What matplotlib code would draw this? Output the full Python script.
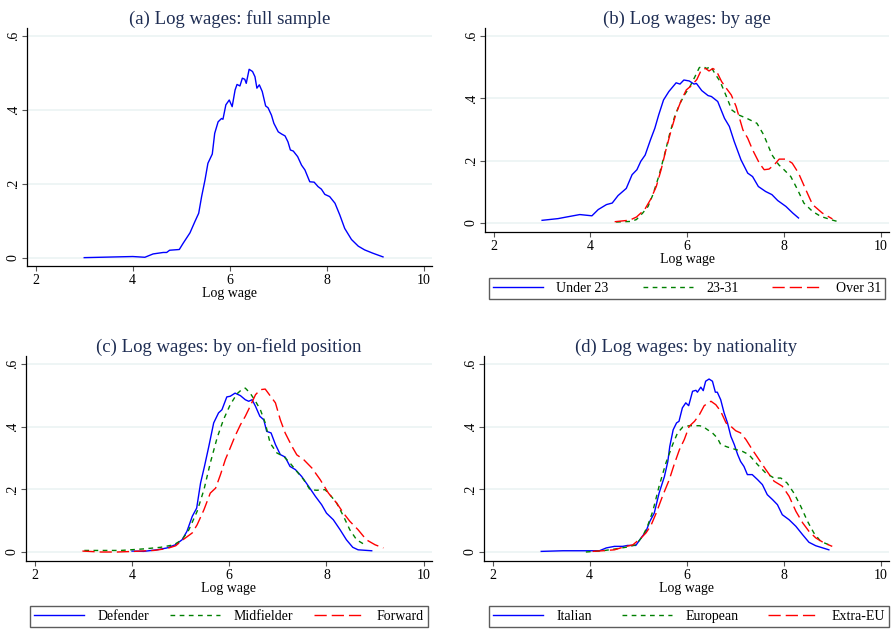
import matplotlib
matplotlib.use("Agg")
import matplotlib.pyplot as plt
import numpy as np

plt.rcParams['font.family'] = ['Liberation Serif', 'DejaVu Serif']

# ---------------- data ----------------
a_x = [3.0, 4.0, 4.25, 4.42, 4.63, 4.7, 4.76, 4.96, 5.04, 5.18, 5.28, 5.36, 5.42, 5.49, 5.55, 5.64, 5.69,
       5.76, 5.83, 5.86, 5.92, 5.99, 6.05, 6.11, 6.15, 6.21, 6.26, 6.31, 6.34, 6.4, 6.47, 6.52, 6.56, 6.61,
       6.67, 6.74, 6.79, 6.86, 6.91, 7.0, 7.07, 7.14, 7.2, 7.25, 7.31, 7.4, 7.48, 7.55, 7.65, 7.74, 7.82,
       7.89, 7.96, 8.06, 8.17, 8.27, 8.37, 8.51, 8.65, 8.78, 8.95, 9.16]
a_y = [0.001, 0.004, 0.002, 0.011, 0.015, 0.015, 0.021, 0.023, 0.04, 0.068, 0.098, 0.121, 0.166, 0.211,
       0.256, 0.281, 0.337, 0.368, 0.377, 0.375, 0.414, 0.427, 0.409, 0.454, 0.469, 0.465, 0.486, 0.483,
       0.472, 0.51, 0.504, 0.49, 0.459, 0.468, 0.45, 0.411, 0.406, 0.386, 0.364, 0.341, 0.335, 0.33, 0.314,
       0.292, 0.289, 0.274, 0.251, 0.238, 0.206, 0.205, 0.193, 0.186, 0.172, 0.166, 0.148, 0.116, 0.08,
       0.05, 0.032, 0.022, 0.013, 0.003]

b_u23_x = [3.0, 3.33, 3.5, 3.78, 4.03, 4.16, 4.33, 4.45, 4.57, 4.74, 4.86, 4.96, 5.04, 5.13, 5.24, 5.33,
           5.41, 5.51, 5.62, 5.77, 5.85, 5.93, 6.04, 6.14, 6.19, 6.3, 6.43, 6.5, 6.63, 6.77, 6.87, 6.97,
           7.11, 7.25, 7.35, 7.47, 7.62, 7.75, 7.87, 8.04, 8.18, 8.3]
b_u23_y = [0.0085, 0.014, 0.019, 0.027, 0.023, 0.043, 0.059, 0.064, 0.088, 0.111, 0.155, 0.171, 0.198,
           0.218, 0.267, 0.304, 0.347, 0.395, 0.422, 0.45, 0.446, 0.459, 0.456, 0.446, 0.448, 0.425, 0.409,
           0.406, 0.39, 0.336, 0.31, 0.262, 0.203, 0.16, 0.149, 0.117, 0.101, 0.091, 0.072, 0.053, 0.032,
           0.016]
b_mid_x = [4.53, 4.84, 4.95, 5.08, 5.19, 5.29, 5.41, 5.53, 5.64, 5.74, 5.85, 5.95, 6.05, 6.16, 6.25, 6.33,
           6.4, 6.49, 6.57, 6.68, 6.81, 6.92, 7.06, 7.23, 7.44, 7.58, 7.75, 7.89, 8.0, 8.14, 8.28, 8.41,
           8.59, 8.76, 8.96, 9.17]
b_mid_y = [0.003, 0.005, 0.011, 0.032, 0.053, 0.091, 0.149, 0.219, 0.288, 0.342, 0.384, 0.413, 0.436,
           0.47, 0.499, 0.502, 0.496, 0.502, 0.48, 0.454, 0.406, 0.363, 0.347, 0.336, 0.32, 0.283, 0.219,
           0.187, 0.171, 0.149, 0.107, 0.064, 0.037, 0.021, 0.011, 0.002]
b_o31_x = [4.5, 4.81, 4.95, 5.12, 5.24, 5.36, 5.46, 5.56, 5.67, 5.77, 5.88, 5.98, 6.1, 6.2, 6.29, 6.38,
           6.45, 6.53, 6.6, 6.71, 6.81, 6.91, 7.01, 7.15, 7.25, 7.35, 7.49, 7.59, 7.69, 7.8, 7.9, 8.04,
           8.17, 8.3, 8.45, 8.59, 8.79, 9.0]
b_o31_y = [0.004, 0.009, 0.019, 0.043, 0.075, 0.117, 0.171, 0.235, 0.299, 0.352, 0.395, 0.427, 0.443,
           0.461, 0.491, 0.496, 0.488, 0.496, 0.489, 0.454, 0.432, 0.411, 0.374, 0.299, 0.272, 0.235,
           0.192, 0.171, 0.173, 0.187, 0.205, 0.205, 0.192, 0.16, 0.107, 0.059, 0.032, 0.013]

c_def_x = [4.0, 4.24, 4.51, 4.72, 4.89, 5.03, 5.13, 5.24, 5.33, 5.41, 5.49, 5.58, 5.68, 5.78, 5.85, 5.95,
           6.02, 6.12, 6.23, 6.33, 6.4, 6.47, 6.54, 6.63, 6.71, 6.77, 6.86, 6.95, 7.05, 7.15, 7.25, 7.36,
           7.49, 7.63, 7.77, 7.9, 8.0, 8.14, 8.28, 8.41, 8.54, 8.65, 8.93]
c_def_y = [0.003, 0.002, 0.007, 0.013, 0.023, 0.039, 0.066, 0.114, 0.14, 0.22, 0.273, 0.337, 0.412,
           0.444, 0.454, 0.495, 0.497, 0.507, 0.499, 0.486, 0.481, 0.486, 0.465, 0.433, 0.422, 0.385,
           0.38, 0.343, 0.311, 0.303, 0.273, 0.263, 0.241, 0.21, 0.178, 0.151, 0.124, 0.103, 0.071, 0.039,
           0.015, 0.007, 0.004]
c_mid_x = [3.02, 3.36, 3.77, 4.25, 4.59, 4.86, 5.03, 5.17, 5.34, 5.48, 5.61, 5.75, 5.88, 6.02, 6.16, 6.24,
           6.33, 6.43, 6.54, 6.64, 6.74, 6.84, 6.98, 7.12, 7.25, 7.39, 7.53, 7.66, 7.8, 7.97, 8.07, 8.21,
           8.35, 8.48, 8.62, 8.79]
c_mid_y = [0.005, 0.005, 0.005, 0.01, 0.015, 0.023, 0.039, 0.071, 0.13, 0.199, 0.284, 0.364, 0.422, 0.47,
           0.505, 0.516, 0.523, 0.507, 0.481, 0.454, 0.412, 0.348, 0.316, 0.305, 0.284, 0.257, 0.231,
           0.199, 0.197, 0.199, 0.183, 0.156, 0.114, 0.071, 0.039, 0.023]
c_fwd_x = [2.98, 3.36, 3.7, 4.04, 4.45, 4.72, 4.9, 5.03, 5.24, 5.34, 5.48, 5.61, 5.72, 5.82, 5.92, 6.02,
           6.12, 6.23, 6.33, 6.43, 6.54, 6.64, 6.74, 6.84, 6.95, 7.05, 7.15, 7.29, 7.39, 7.53, 7.7, 7.87,
           8.04, 8.21, 8.35, 8.48, 8.65, 8.82, 9.0, 9.17]
c_fwd_y = [0.003, 0.0, 0.0, 0.002, 0.005, 0.011, 0.02, 0.037, 0.061, 0.087, 0.135, 0.188, 0.204, 0.247,
           0.295, 0.332, 0.37, 0.406, 0.433, 0.465, 0.502, 0.518, 0.52, 0.499, 0.476, 0.422, 0.38, 0.337,
           0.31, 0.295, 0.268, 0.231, 0.188, 0.156, 0.124, 0.098, 0.071, 0.039, 0.023, 0.013]

d_ita_x = [3.0, 3.45, 3.93, 4.2, 4.34, 4.51, 4.68, 4.78, 4.95, 5.06, 5.16, 5.24, 5.33, 5.43, 5.54, 5.61,
           5.65, 5.72, 5.79, 5.84, 5.91, 5.98, 6.04, 6.12, 6.19, 6.22, 6.29, 6.34, 6.39, 6.46, 6.53, 6.59,
           6.63, 6.7, 6.77, 6.84, 6.91, 6.98, 7.05, 7.11, 7.18, 7.25, 7.35, 7.46, 7.56, 7.66, 7.77, 7.87,
           7.97, 8.11, 8.25, 8.39, 8.52, 8.66, 8.93]
d_ita_y = [0.002, 0.004, 0.004, 0.004, 0.013, 0.018, 0.018, 0.021, 0.021, 0.045, 0.066, 0.098, 0.124,
           0.188, 0.241, 0.289, 0.337, 0.39, 0.412, 0.417, 0.46, 0.476, 0.467, 0.513, 0.516, 0.51, 0.526,
           0.515, 0.545, 0.552, 0.545, 0.51, 0.51, 0.486, 0.444, 0.412, 0.369, 0.343, 0.311, 0.289, 0.273,
           0.247, 0.247, 0.231, 0.215, 0.183, 0.167, 0.151, 0.119, 0.103, 0.082, 0.055, 0.031, 0.02, 0.007]
d_eur_x = [3.92, 4.27, 4.54, 4.78, 4.95, 5.09, 5.19, 5.3, 5.43, 5.57, 5.71, 5.81, 5.92, 6.05, 6.16, 6.26,
           6.33, 6.43, 6.53, 6.63, 6.7, 6.84, 7.01, 7.15, 7.28, 7.46, 7.63, 7.8, 7.94, 8.07, 8.21, 8.35,
           8.49, 8.62, 8.76, 8.93]
d_eur_y = [0.0, 0.004, 0.01, 0.016, 0.023, 0.05, 0.082, 0.13, 0.21, 0.284, 0.343, 0.38, 0.399, 0.403,
           0.403, 0.403, 0.401, 0.39, 0.38, 0.364, 0.343, 0.335, 0.327, 0.321, 0.311, 0.279, 0.252, 0.236,
           0.236, 0.22, 0.188, 0.146, 0.098, 0.061, 0.034, 0.023]
d_ext_x = [4.06, 4.27, 4.51, 4.68, 4.89, 5.06, 5.16, 5.26, 5.37, 5.5, 5.64, 5.74, 5.85, 5.95, 6.05, 6.16,
           6.26, 6.36, 6.5, 6.6, 6.7, 6.81, 6.91, 7.01, 7.11, 7.22, 7.35, 7.49, 7.63, 7.8, 7.97, 8.11,
           8.25, 8.39, 8.52, 8.66, 8.83, 9.0]
d_ext_y = [0.002, 0.004, 0.007, 0.015, 0.023, 0.045, 0.061, 0.084, 0.124, 0.178, 0.231, 0.279, 0.327,
           0.359, 0.401, 0.417, 0.438, 0.467, 0.481, 0.47, 0.449, 0.412, 0.401, 0.387, 0.38, 0.359, 0.327,
           0.295, 0.263, 0.226, 0.21, 0.178, 0.13, 0.093, 0.066, 0.045, 0.029, 0.018]

titles = ["(a) Log wages: full sample", "(b) Log wages: by age",
          "(c) Log wages: by on-field position", "(d) Log wages: by nationality"]
legend_b = ["Under 23", "23-31", "Over 31"]
legend_c = ["Defender", "Midfielder", "Forward"]
legend_d = ["Italian", "European", "Extra-EU"]
x_ticks = [2, 4, 6, 8, 10]
y_ticks = [0, 0.2, 0.4, 0.6]
y_ticklabels = ["0", ".2", ".4", ".6"]
x_label = "Log wage"

# ---------------- style ----------------
W, H = 893, 630
fig = plt.figure(figsize=(W / 100, H / 100), dpi=100)
TITLE_C = "#1e2d53"
GRID_C = "#eaf2f3"
FS = 10
styles = [dict(color="#0000ff", lw=1.0, ls="-"),
          dict(color="#008000", lw=1.0, ls=(0, (3.4, 3.2))),
          dict(color="#ff0000", lw=1.0, ls=(0, (8.8, 3.6)))]


def fr(l, t, r, b):
    return [l / W, 1 - b / H, (r - l) / W, (b - t) / H]


def setup(ax, title, ylim):
    ax.set_xlim(1.82, 10.17)
    ax.set_ylim(*ylim)
    ax.set_xticks(x_ticks)
    ax.set_yticks(y_ticks)
    ax.set_yticklabels(y_ticklabels, rotation=90, va="center")
    ax.grid(axis="y", color=GRID_C, lw=1.1)
    ax.set_axisbelow(True)
    for s in ["top", "right"]:
        ax.spines[s].set_visible(False)
    for s in ["left", "bottom"]:
        ax.spines[s].set_color("black")
        ax.spines[s].set_linewidth(0.9)
    ax.tick_params(axis="both", direction="out", length=3.6, width=0.8, color="#555555",
                   labelsize=FS, labelcolor="black")
    ax.tick_params(axis="x", pad=2)
    ax.tick_params(axis="y", pad=1.5)
    ax.set_xlabel(x_label, fontsize=FS, labelpad=0)
    ax.set_title(title, fontsize=13.5, color=TITLE_C, pad=2)


def legend(handles, labels, l, t, r, b):
    leg = fig.legend(handles, labels, loc="center",
                     bbox_to_anchor=(l / W, 1 - b / H, (r - l) / W, (b - t) / H),
                     mode="expand", ncol=3, fontsize=FS, frameon=True, fancybox=False,
                     handlelength=3.6, handletextpad=0.95, borderaxespad=0,
                     borderpad=0.3, edgecolor="#333333")
    leg.get_frame().set_linewidth(1.0)


# panel a
ax = fig.add_axes(fr(27, 28, 432, 266))
ax.plot(a_x, a_y, **styles[0])
setup(ax, titles[0], (-0.0216, 0.6216))

# panel b
ax = fig.add_axes(fr(485, 28, 889, 232))
hs = []
for (xx, yy), st in zip([(b_u23_x, b_u23_y), (b_mid_x, b_mid_y), (b_o31_x, b_o31_y)], styles):
    hs.append(ax.plot(xx, yy, **st)[0])
setup(ax, titles[1], (-0.029, 0.626))
legend(hs, legend_b, 489, 275, 885, 302)

# panel c
ax = fig.add_axes(fr(26, 356, 432, 561))
hs = []
for (xx, yy), st in zip([(c_def_x, c_def_y), (c_mid_x, c_mid_y), (c_fwd_x, c_fwd_y)], styles):
    hs.append(ax.plot(xx, yy, **st)[0])
setup(ax, titles[2], (-0.0287, 0.6255))
legend(hs, legend_c, 30, 604, 428, 629)

# panel d
ax = fig.add_axes(fr(484, 356, 889, 561))
hs = []
for (xx, yy), st in zip([(d_ita_x, d_ita_y), (d_eur_x, d_eur_y), (d_ext_x, d_ext_y)], styles):
    hs.append(ax.plot(xx, yy, **st)[0])
setup(ax, titles[3], (-0.0287, 0.6255))
legend(hs, legend_d, 489, 604, 889, 629)

fig.savefig("out.png", dpi=100)
